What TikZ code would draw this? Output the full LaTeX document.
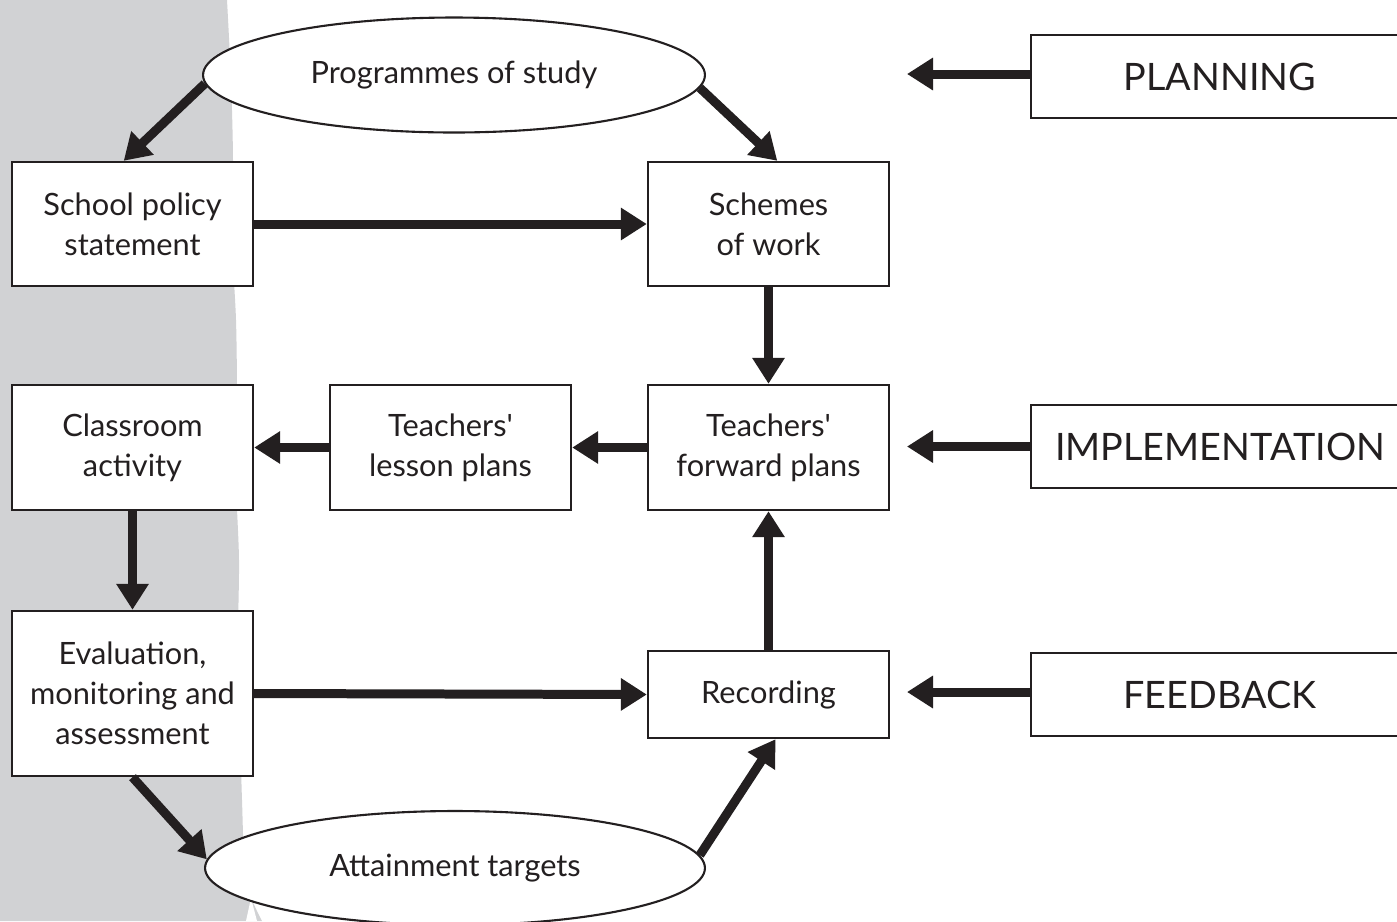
\documentclass[tikz,border=0pt]{standalone}
\usepackage{fontspec}
\setmainfont{Lato}
\usetikzlibrary{arrows.meta,shapes.geometric}
\definecolor{stripgray}{HTML}{D1D2D4}
\definecolor{ink}{HTML}{231F20}
\tikzset{
  box/.style={draw=ink, line width=1.4pt, fill=white, inner sep=0pt, align=center,
    text=ink, font=\fontsize{17.5}{22.8}\selectfont, minimum width=4.82cm},
  oval/.style={draw=ink, ellipse, line width=1.2pt, fill=white, inner sep=0pt,
    text=ink, font=\fontsize{17.5}{22.8}\selectfont},
  phase/.style={draw=ink, line width=1.4pt, fill=white, inner sep=0pt, text=ink,
    font=\fontsize{21.5}{26}\selectfont, minimum width=7.56cm, minimum height=1.66cm},
  arr/.style={draw=ink, line width=0.18cm, -{Triangle[length=0.52cm,width=0.62cm]}}
}
\begin{document}
\begin{tikzpicture}[x=0.02cm,y=-0.02cm]
\useasboundingbox (0,0) rectangle (1397,921);
\clip (0,0) rectangle (1397,921);
\fill[white] (0,0) rectangle (1397,921);
\fill[stripgray] (0,0) -- plot[smooth] coordinates {(227,0) (231,80) (233,160) (232,240) (236,320) (237,400) (236,480) (239,560) (238,640) (240,720) (242,800) (246,880) (262,921)} -- (0,921) -- cycle;
\fill[white] (246,921) -- (251,898) -- (257,921) -- cycle;

\node[oval, minimum width=10.04cm, minimum height=2.3cm] (prog) at (454,75) {Programmes of study};
\node[oval, minimum width=10.0cm, minimum height=2.28cm] (att) at (455,868) {Attainment targets};

\node[box, minimum height=2.48cm] (sp) at (132.5,224) {School policy\\statement};
\node[box, minimum height=2.48cm] (sw) at (768.5,224) {Schemes\\of work};
\node[box, minimum height=2.5cm] (ca) at (132.5,447.5) {Classroom\\activity};
\node[box, minimum height=2.5cm] (lp) at (450.5,447.5) {Teachers\textquotesingle\\lesson plans};
\node[box, minimum height=2.5cm] (fp) at (768.5,447.5) {Teachers\textquotesingle\\forward plans};
\node[box, minimum height=3.3cm] (ev) at (132.5,693.5) {Evaluation,\\monitoring and\\assessment};
\node[box, minimum height=1.74cm] (rec) at (768.5,694.5) {Recording};

\node[phase] (plan) at (1220,76.5) {PLANNING};
\node[phase] (impl) at (1220,446.5) {IMPLEMENTATION};
\node[phase] (feed) at (1220,694.5) {FEEDBACK};

\coordinate (pe) at (907,74);
\coordinate (ie) at (907,446.5);
\coordinate (fe) at (907,692);

\draw[arr] (prog.182.5) -- ([xshift=-5]sp.north);
\draw[arr] (prog.357) -- ([xshift=5]sw.north);
\draw[arr] (sp.east) -- (sw.west);
\draw[arr] (sw.south) -- (fp.north);
\draw[arr] (fp.west) -- (lp.east);
\draw[arr] (lp.west) -- (ca.east);
\draw[arr] (ca.south) -- (ev.north);
\draw[arr] (ev.east) -- (rec.west);
\draw[arr] (ev.south) -- (att.178);
\draw[arr] (att.3.5) -- ([xshift=4]rec.south);
\draw[arr] (rec.north) -- (fp.south);
\draw[arr] (plan.west |- pe) -- (pe);
\draw[arr] (impl.west) -- (ie);
\draw[arr] (feed.west |- fe) -- (fe);
\end{tikzpicture}
\end{document}
